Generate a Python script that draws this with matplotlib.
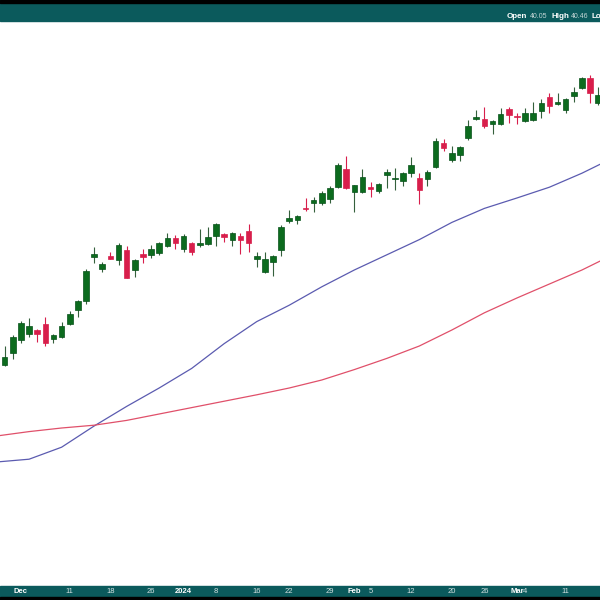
"""Daily candlestick chart with 50/200-day moving averages (Nov 2023 - Mar 2024)."""

import matplotlib
matplotlib.use("Agg")
import matplotlib.pyplot as plt
from matplotlib.patches import Rectangle
from matplotlib.transforms import blended_transform_factory
import numpy as np
import pandas as pd

plt.rcParams["font.family"] = ["Liberation Sans", "DejaVu Sans"]

# trading sessions shown
holidays = ["2023-12-25", "2024-01-01", "2024-01-15", "2024-02-19"]
dates = pd.bdate_range("2023-11-29", "2024-03-15")
dates = dates[~dates.isin(pd.to_datetime(holidays))]

opens = [33.51, 33.80, 34.13, 34.28, 34.37, 34.52, 34.16, 34.21, 34.52, 34.88,
         35.11, 36.21, 35.90, 36.24, 36.13, 36.38, 35.88, 36.28, 36.26, 36.31,
         36.49, 36.69, 36.41, 36.55, 36.51, 36.53, 36.74, 36.78, 36.63, 36.74,
         36.86, 36.15, 35.82, 36.09, 36.38, 37.11, 37.13, 37.44, 37.56, 37.55,
         37.66, 37.95, 38.40, 37.84, 37.82, 37.95, 37.86, 38.26, 38.15, 38.11,
         38.30, 38.17, 38.16, 38.46, 39.06, 38.63, 38.76, 39.19, 39.65, 39.65,
         39.52, 39.52, 39.90, 39.73, 39.61, 39.63, 39.86, 40.21, 40.03, 39.88,
         40.24, 40.42, 40.67, 40.05]
highs = [33.98, 34.26, 34.61, 34.68, 34.40, 34.70, 34.28, 34.57, 34.86, 35.13,
         35.90, 36.45, 36.09, 36.32, 36.55, 36.49, 36.15, 36.40, 36.51, 36.59,
         36.80, 36.76, 36.78, 36.59, 36.90, 36.96, 37.05, 36.80, 36.84, 36.81,
         37.02, 36.32, 36.32, 36.26, 37.01, 37.38, 37.26, 37.67, 37.71, 37.86,
         37.98, 38.55, 38.74, 38.01, 38.40, 38.07, 38.05, 38.41, 38.42, 38.34,
         38.70, 38.30, 38.38, 39.17, 39.15, 38.98, 38.98, 39.63, 39.88, 39.96,
         39.63, 39.92, 39.96, 39.80, 39.92, 40.09, 40.15, 40.30, 40.30, 40.17,
         40.46, 40.70, 40.76, 40.46]
lows = [33.48, 33.65, 34.06, 34.21, 34.07, 33.99, 34.05, 34.17, 34.51, 34.70,
        35.03, 36.05, 35.82, 36.15, 36.01, 35.68, 35.71, 36.05, 36.17, 36.26,
        36.46, 36.40, 36.34, 36.26, 36.46, 36.51, 36.49, 36.59, 36.49, 36.27,
        36.32, 35.96, 35.80, 35.74, 36.24, 37.05, 37.03, 37.36, 37.34, 37.51,
        37.55, 37.92, 37.90, 37.32, 37.80, 37.70, 37.80, 37.94, 37.88, 37.98,
        38.21, 37.52, 37.99, 38.44, 38.86, 38.59, 38.61, 39.13, 39.63, 39.42,
        39.28, 39.50, 39.55, 39.52, 39.59, 39.61, 39.67, 39.81, 40.01, 39.81,
        40.09, 40.40, 40.05, 40.00]
closes = [33.71, 34.21, 34.55, 34.49, 34.28, 34.05, 34.26, 34.49, 34.78, 35.11,
          35.85, 36.28, 36.03, 36.16, 36.51, 35.69, 36.13, 36.21, 36.40, 36.55,
          36.69, 36.55, 36.74, 36.34, 36.55, 36.71, 37.02, 36.71, 36.81, 36.63,
          36.55, 36.23, 36.15, 36.23, 36.96, 37.17, 37.24, 37.40, 37.63, 37.80,
          37.92, 38.51, 37.92, 38.00, 38.20, 37.91, 38.02, 38.34, 38.19, 38.31,
          38.51, 37.88, 38.32, 39.11, 38.92, 38.80, 38.95, 39.49, 39.70, 39.48,
          39.61, 39.77, 39.75, 39.70, 39.80, 39.81, 40.05, 39.98, 40.07, 40.15,
          40.34, 40.67, 40.30, 40.26]

# moving averages, read every few sessions (session offset from first bar)
ma_days = [-1, 3, 7, 11, 15, 19, 23, 27, 31, 35, 39, 43, 47, 51, 55, 59, 63, 67, 71, 74]
ma50 = [31.08, 31.15, 31.45, 31.98, 32.47, 32.93, 33.42, 34.04, 34.59, 35.00,
        35.46, 35.88, 36.26, 36.64, 37.07, 37.42, 37.68, 37.95, 38.30, 38.60]
ma200 = [31.73, 31.84, 31.93, 32.00, 32.12, 32.28, 32.44, 32.60, 32.76, 32.93,
         33.13, 33.39, 33.67, 33.98, 34.38, 34.81, 35.18, 35.53, 35.88, 36.18]

tick_dates = ["2023-12-01", "2023-12-11", "2023-12-18", "2023-12-26", "2024-01-02",
              "2024-01-08", "2024-01-16", "2024-01-22", "2024-01-29", "2024-02-01",
              "2024-02-05", "2024-02-12", "2024-02-20", "2024-02-26", "2024-03-01",
              "2024-03-04", "2024-03-11"]
tick_labels = ["Dec", "11", "18", "26", "2024", "8", "16", "22", "29", "Feb",
               "5", "12", "20", "26", "Mar", "4", "11"]

teal = "#0b5a5c"
up_col, up_edge, up_wick = "#0c6b1e", "#07511a", "#35603c"
dn_col = "#d81e4b"

fig = plt.figure(figsize=(6, 6), dpi=100)
ax = fig.add_axes([0, 14 / 600, 1, 565 / 600])
ax.set_xlim(-0.578, 73.22)
ax.set_ylim(27.98, 42.105)
ax.axis("off")

x = np.arange(len(dates))
o, h, l, c = map(np.array, (opens, highs, lows, closes))
up = c >= o

ax.plot(ma_days, ma50, color="#5b5bb0", lw=0.9, zorder=1)
ax.plot(ma_days, ma200, color="#e0506a", lw=0.9, zorder=1)

ax.vlines(x[up], l[up], h[up], color=up_wick, lw=0.8, zorder=2)
ax.vlines(x[~up], l[~up], h[~up], color=dn_col, lw=0.8, zorder=2)
body = np.maximum(np.abs(c - o), 0.04)
ax.bar(x[up], body[up], bottom=np.minimum(o, c)[up], width=0.68,
       color=up_col, edgecolor=up_edge, linewidth=0.5, zorder=3)
ax.bar(x[~up], body[~up], bottom=np.minimum(o, c)[~up], width=0.68,
       color=dn_col, edgecolor=dn_col, linewidth=0.5, zorder=3)

# header and footer bands
fig.add_artist(Rectangle((0, 0.9658), 1, 0.0342, transform=fig.transFigure, color=teal, zorder=0))
fig.add_artist(Rectangle((0, 0.9958), 1, 0.0042, transform=fig.transFigure, color="black", zorder=1))
fig.add_artist(Rectangle((0, 0.005), 1, 0.0184, transform=fig.transFigure, color=teal, zorder=0))
fig.add_artist(Rectangle((0, 0), 1, 0.005, transform=fig.transFigure, color="black", zorder=1))

# header legend, cut off at the right edge as in the source
hy = 1 - 16 / 600
for px, s, bold in [(507, "Open", True), (530, "40.05", False), (551, "High", True),
                    (571, "40.46", False), (591, "Lo", True)]:
    fig.text(px / 600, hy, s, color="white" if bold else "#c4d6d6",
             fontsize=5.8 if bold else 5.0,
             fontweight="bold" if bold else "normal", va="center", ha="left")

pos = {d: i for i, d in enumerate(dates.strftime("%Y-%m-%d"))}
trans = blended_transform_factory(ax.transData, fig.transFigure)
for d, lab in zip(tick_dates, tick_labels):
    bold = lab[0].isalpha() or len(lab) == 4
    ax.text(pos[d], 1 - 591.5 / 600, lab, transform=trans, ha="center", va="center",
            fontsize=5.5, color="white" if bold else "#d5e2e2",
            fontweight="bold" if bold else "normal", clip_on=False)

fig.savefig("out.png", dpi=100)
